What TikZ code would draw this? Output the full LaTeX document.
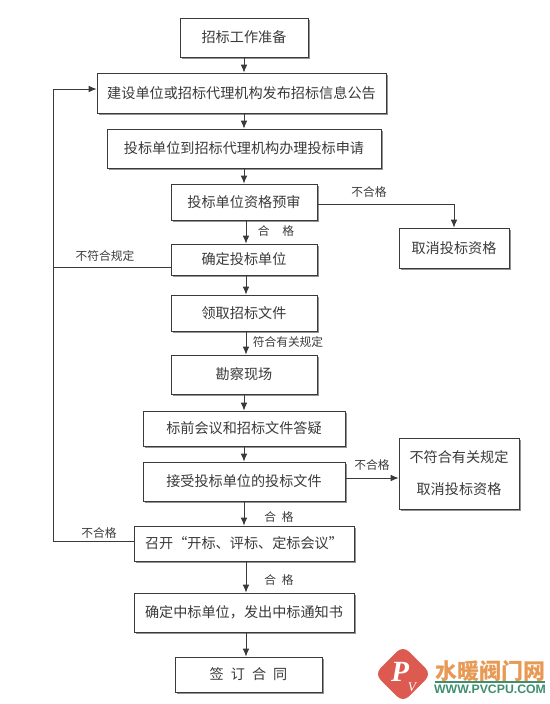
\documentclass[tikz,border=0pt]{standalone}
\usepackage{fontspec}
\setmainfont{Noto Sans CJK SC}
\newfontfamily\logofont{Liberation Serif}
\newfontfamily\urlfont{Liberation Sans}
\usetikzlibrary{calc, shadows, arrows.meta}
\definecolor{inkgray}{HTML}{3A3A3A}
\definecolor{logored}{HTML}{DC5A50}
\definecolor{logoorange}{HTML}{E89A55}
\definecolor{logogreen}{HTML}{3F8F6F}
\tikzset{
  stagebox/.style 2 args={draw=inkgray, fill=white, line width=0.6pt, text=inkgray,
    minimum width=#1*0.75pt, minimum height=#2*0.75pt, inner sep=0pt,
    font=\fontsize{10.6}{12}\selectfont,
    drop shadow={shadow xshift=1.2pt, shadow yshift=-1.2pt, fill=gray!85, opacity=1}},
  note/.style={text=inkgray, inner sep=0pt, font=\fontsize{8.8}{10}\selectfont},
  conn/.style={draw=inkgray, line width=0.6pt},
  arr/.style={conn, -{Latex[length=6pt,width=5pt]}},
}

\begin{document}
\begin{tikzpicture}[x=0.75pt, y=-0.75pt]
  \useasboundingbox (0,0) rectangle (550,704);

  % 两条竖直箭头所在的 x 位置
  \coordinate (Lx) at (244, 0);
  \coordinate (Rx) at (246, 0);
  % 左侧回路
  \coordinate (LoopTop) at (53, 89);
  \coordinate (LoopMid) at (53, 267);
  \coordinate (LoopBot) at (53, 541);
  % 右侧分支的出口高度
  \coordinate (PreOut)    at (454, 204);
  \coordinate (AcceptOut) at (399, 478);

  % 主流程
  \node[stagebox={128}{39}]  (start)   at (244, 37.5)  {招标工作准备};
  \node[stagebox={289}{40}]  (publish) at (241.5, 93)  {建设单位或招标代理机构发布招标信息公告};
  \node[stagebox={274}{39}]  (apply)   at (244, 148.5) {投标单位到招标代理机构办理投标申请};
  \node[stagebox={146}{36}]  (precheck) at (244, 202)  {投标单位资格预审};
  \node[stagebox={146}{31}]  (confirm) at (244, 259.5) {确定投标单位};
  \node[stagebox={146}{36}]  (fetch)   at (244, 313)   {领取招标文件};
  \node[stagebox={146}{39}]  (survey)  at (244, 374.5) {勘察现场};
  \node[stagebox={202}{35}]  (answer)  at (244, 428.5) {标前会议和招标文件答疑};
  \node[stagebox={202}{39}]  (accept)  at (244, 481.5) {接受投标单位的投标文件};
  \node[stagebox={220}{35}]  (meeting) at (244, 543.5) {召开“开标、评标、定标会议”};
  \node[stagebox={220}{39}]  (notice)  at (244, 612.5) {确定中标单位，发出中标通知书};
  \node[stagebox={147}{35}]  (sign)    at (248.5, 674.5) {签\hspace{0.5em}订\hspace{0.5em}合\hspace{0.5em}同};

  % 右侧两个框
  \node[stagebox={110}{40}]  (cancel)  at (454, 248)   {取消投标资格};
  \node[stagebox={120}{71}, align=center, font=\fontsize{10.6}{24}\selectfont]
    (reject) at (459, 473.5) {不符合有关规定\\取消投标资格};

  % 竖直箭头
  \draw[arr] (start.south -| Lx)    -- (publish.north -| Lx);
  \draw[arr] (publish.south -| Lx)  -- (apply.north -| Lx);
  \draw[arr] (apply.south -| Lx)    -- (precheck.north -| Lx);
  \draw[arr] (precheck.south -| Rx) -- (confirm.north -| Rx);
  \draw[arr] (confirm.south -| Rx)  -- (fetch.north -| Rx);
  \draw[arr] (fetch.south -| Rx)    -- (survey.north -| Rx);
  \draw[arr] (survey.south -| Lx)   -- (answer.north -| Lx);
  \draw[arr] (answer.south -| Lx)   -- (accept.north -| Lx);
  \draw[arr] (accept.south -| Lx)   -- (meeting.north -| Lx);
  \draw[arr] (meeting.south -| Rx)  -- (notice.north -| Rx);
  \draw[arr] (notice.south -| Rx)   -- (sign.north -| Rx);

  % 不合格分支
  \draw[arr] (precheck.east |- PreOut) -- (PreOut) -- (cancel.north);
  \draw[arr] (accept.east |- AcceptOut) -- (reject.west |- AcceptOut);

  % 回路
  \draw[arr] (meeting.west |- LoopBot) -- (LoopBot) -- (LoopTop) -- (publish.west |- LoopTop);
  \draw[conn] (confirm.west |- LoopMid) -- (LoopMid);

  % 线上的文字
  \node[note] (nPre)     at (369, 192.5) {不合格};
  \node[note] (nPass1)   at (276, 231.5) {合\hspace{1.1em}格};
  \node[note] (nBreach)  at (105, 256)   {不符合规定};
  \node[note] (nOk)      at (288, 342.5) {符合有关规定};
  \node[note] (nAccept)  at (372, 465.5) {不合格};
  \node[note] (nPass2)   at (279, 517)   {合\hspace{0.5em}格};
  \node[note] (nMeeting) at (99, 533)    {不合格};
  \node[note] (nPass3)   at (279, 580.5) {合\hspace{0.5em}格};

  % 右下角标志
  \node[fill=logored, rounded corners=6pt, rotate=45, minimum size=30pt, inner sep=0pt] (logo) at (403, 674) {};
  \node[text=white, inner sep=0pt, font=\logofont\bfseries\itshape\fontsize{22}{22}\selectfont] (logoP) at (400, 672) {P};
  \node[text=white, inner sep=0pt, font=\logofont\itshape\fontsize{10}{10}\selectfont] (logoV) at (412, 687) {V};
  \node[text=logoorange, inner sep=0pt, font=\bfseries\fontsize{16.5}{18}\selectfont] (logoName) at (490, 671) {水暖阀门网};
  \draw[draw=logogreen, line width=0.8pt] (logoName.west |- 0,682) -- (logoName.east |- 0,682);
  \node[text=logogreen, inner sep=0pt, font=\urlfont\bfseries\fontsize{9.2}{10}\selectfont] (logoUrl) at (490, 689) {WWW.PVCPU.COM};
\end{tikzpicture}
\end{document}
